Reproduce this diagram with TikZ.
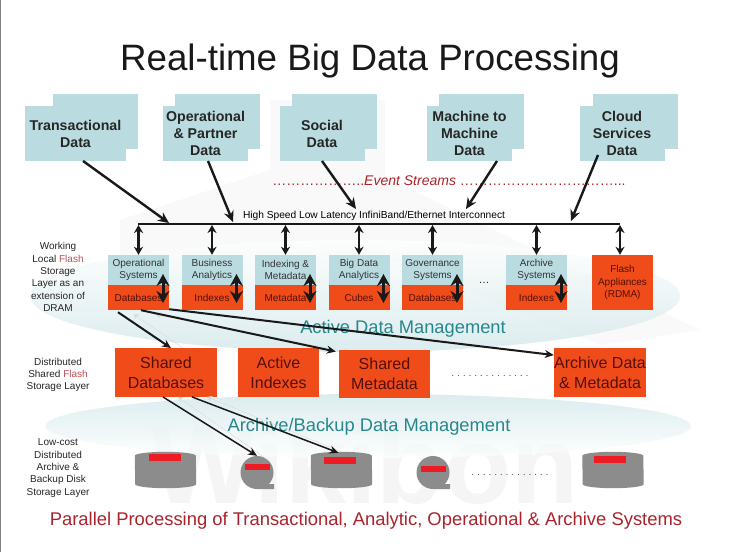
\documentclass[tikz,border=0pt]{standalone}
\usepackage{fontspec}
\setmainfont{Liberation Sans}
\usetikzlibrary{arrows.meta}
\definecolor{sourceteal}{RGB}{186,220,224}
\definecolor{flashorange}{RGB}{240,76,26}
\definecolor{diskgrey}{RGB}{140,140,140}
\definecolor{diskred}{RGB}{237,28,36}
\definecolor{swooshteal}{RGB}{205,229,232}
\definecolor{layerteal}{RGB}{38,135,140}
\definecolor{streamred}{RGB}{170,35,45}
\definecolor{onorange}{RGB}{85,15,10}
\newcommand{\diskbody}[1]{\fill[diskgrey] ([yshift=-4pt]#1.north west) arc[start angle=180,end angle=0,x radius=30.5pt,y radius=4pt]
  -- ([yshift=4pt]#1.south east) arc[start angle=0,end angle=-180,x radius=30.5pt,y radius=4pt] -- cycle;}
\tikzset{
  sourceback/.style={fill=sourceteal,minimum width=85pt,minimum height=55pt,inner sep=0pt},
  sourcefront/.style={fill=sourceteal,minimum height=54.5pt,inner sep=0pt,align=center,
    font=\fontsize{14.2}{17}\selectfont\bfseries,text=black!85},
  systemtop/.style={fill=sourceteal,minimum width=61pt,minimum height=30pt,inner sep=0pt,align=center,
    font=\fontsize{10}{12.3}\selectfont,text=black!80},
  systembottom/.style={fill=flashorange,minimum width=61pt,minimum height=25pt,inner sep=0pt,
    font=\fontsize{10}{12.3}\selectfont,text=onorange},
  sharedbox/.style={fill=flashorange,minimum height=48.5pt,inner sep=0pt,align=center,
    font=\fontsize{16}{20}\selectfont,text=onorange},
  sidelabel/.style={align=center,inner sep=0pt,font=\fontsize{10}{12.3}\selectfont,text=black!85},
  layerlabel/.style={inner sep=0pt,font=\fontsize{18.3}{20}\selectfont,text=layerteal},
  feedarrow/.style={line width=2.4pt,-{Stealth[length=11pt,width=10pt]},black!90},
  thinarrow/.style={line width=1.5pt,-{Stealth[length=9pt,width=8pt]},black!90},
  linkarrow/.style={line width=2.5pt,{Stealth[length=8pt,width=9pt]}-{Stealth[length=8pt,width=9pt]},black!90},
  cachearrow/.style={line width=3pt,{Stealth[length=12pt,width=13pt]}-{Stealth[length=12pt,width=13pt]},black!90},
  disk/.style={minimum width=61pt,minimum height=36pt,inner sep=0pt},
  smalldisk/.style={circle,fill=diskgrey,minimum size=33pt,inner sep=0pt},
  diskmark/.style={fill=diskred,minimum height=7pt,inner sep=0pt},
  dotfill/.style={inner sep=0pt,font=\fontsize{8.8}{10}\selectfont,text=black!85}
}
\begin{document}
\begin{tikzpicture}[x=1pt,y=-1pt]
\useasboundingbox (0,0) rectangle (736,552);
\fill[white] (0,0) rectangle (736,552);
\fill[gray] (0,0) rectangle (1,552);
% faint marks behind the diagram
\node (watermark) [inner sep=0pt,font=\fontsize{110}{120}\selectfont\bfseries,text=black!4] at (365,464) {Wikibon};
\fill[black!2.5] (270,100) -- (385,100) -- (385,300) -- (270,300) -- cycle;
\fill[black!2.5] (120,220) -- (330,150) -- (700,330) -- (600,345) -- (330,235) -- (120,300) -- cycle;
\shade[top color=white,bottom color=swooshteal,opacity=.7] (355,296) ellipse (325pt and 56pt);
\shade[top color=swooshteal,bottom color=white,opacity=.7] (368,426) ellipse (323pt and 32pt);
% title
\node (title) [inner sep=0pt,font=\fontsize{36.7}{40}\selectfont,text=black!90] at (370,61) {Real-time Big Data Processing};
% data sources
\node (transback) [sourceback] at (95.5,121) {};
\node (trans) [sourcefront,minimum width=101pt] at (75.5,133.5) {Transactional\\Data};
\node (partnerback) [sourceback] at (217.5,121) {};
\node (partner) [sourcefront,minimum width=85pt] at (205.5,133.5) {Operational\\\& Partner\\Data};
\node (socialback) [sourceback] at (334.5,121) {};
\node (social) [sourcefront,minimum width=85pt] at (322,133.5) {Social\\Data};
\node (machineback) [sourceback] at (481.5,121) {};
\node (machine) [sourcefront,minimum width=85pt] at (469.5,133.5) {Machine to\\Machine\\Data};
\node (cloudback) [sourceback] at (635,121) {};
\node (cloud) [sourcefront,minimum width=85pt] at (622,133.5) {Cloud\\Services\\Data};
\node (streams) [inner sep=0pt,font=\fontsize{14}{15}\selectfont,text=streamred] at (449,181) {………………..\textit{Event Streams} ……………………………...};
% interconnect
\node (interlabel) [inner sep=0pt,font=\fontsize{10.2}{12}\selectfont] at (374,215.5) {High Speed Low Latency InfiniBand/Ethernet Interconnect};
\coordinate (busleft) at (138,224);
\coordinate (busright) at (620,224);
\draw[line width=2.4pt,black!90] (busleft) -- (busright);
\coordinate (feeda) at (169,223);
\coordinate (feedb) at (233,222);
\coordinate (feedc) at (356,209);
\coordinate (feedd) at (466,209);
\coordinate (feede) at (571,221);
\draw[feedarrow] ([xshift=7.5pt]trans.south) -- (feeda);
\draw[feedarrow] ([xshift=2.5pt]partner.south) -- (feedb);
\draw[feedarrow] (social.south) -- (feedc);
\draw[feedarrow] ([xshift=27.5pt]machine.south) -- (feedd);
\draw[feedarrow] ([xshift=-24pt,yshift=6pt]cloud.south) -- (feede);
% local flash layer
\node (workinglabel) [sidelabel] at (58,277) {Working\\Local \textcolor{streamred!80}{Flash}\\Storage\\Layer as an\\extension of\\DRAM};
\foreach \sysname/\sysx/\systext/\cachetext in {ops/138.5/Operational\\Systems/Databases,
    bus/212/Business\\Analytics/Indexes, idx/285.5/Indexing \&\\Metadata/Metadata,
    big/359/Big Data\\Analytics/Cubes, gov/432.5/Governance\\Systems/Databases,
    arc/536.5/Archive\\Systems/Indexes}{
  \node (\sysname top) [systemtop] at (\sysx,270) {\systext};
  \node (\sysname low) [systembottom] at (\sysx,297.5) {\cachetext};
  \coordinate (\sysname bus) at (\sysx,225);
  \draw[linkarrow] (\sysname bus) -- (\sysname top.north);
  \draw[cachearrow] ([xshift=24.5pt,yshift=-4pt]\sysname top.center) -- ([xshift=24.5pt,yshift=-5.5pt]\sysname low.center);
}
\node (appliance) [fill=flashorange,minimum width=61pt,minimum height=55pt,inner sep=0pt,align=center,
  font=\fontsize{10}{12.3}\selectfont,text=onorange] at (622.5,282.5) {Flash\\Appliances\\(RDMA)};
\coordinate (appliancebus) at (620,225);
\draw[linkarrow] (appliancebus) -- (appliancebus |- appliance.north);
\node (sysdots) [dotfill,font=\fontsize{11}{12}\selectfont] at (484,283) {…};
\node (activelabel) [layerlabel] at (403,329) {Active Data Management};
% shared flash layer
\node (sharedlabel) [sidelabel] at (58,375) {Distributed\\Shared \textcolor{streamred!80}{Flash}\\Storage Layer};
\node (shareddb) [sharedbox,minimum width=102pt] at (166,372.5) {Shared\\Databases};
\node (activeidx) [sharedbox,minimum width=81pt] at (278.5,372.5) {Active\\Indexes};
\node (sharedmeta) [sharedbox,minimum width=91pt] at (384.5,374) {Shared\\Metadata};
\node (archivedata) [sharedbox,minimum width=92pt] at (600,372.5) {Archive Data\\\& Metadata};
\node (shareddots) [dotfill] at (490,376) {. . . . . . . . . . . . . .};
\draw[black!15,{Stealth[length=5pt,width=6pt]}-] ([xshift=-5pt,yshift=-4pt]opslow.south) -- ([xshift=17pt]shareddb.north);
\draw[black!15,{Stealth[length=5pt,width=6pt]}-] ([xshift=17pt,yshift=-4pt]opslow.south) -- ([xshift=-4pt]sharedmeta.north west);
\draw[thinarrow,line width=2pt] ([xshift=-20.5pt,yshift=-2pt]opslow.south) -- ([xshift=5pt]shareddb.north);
\draw[thinarrow,line width=2pt] ([xshift=2.5pt]opslow.south) -- ([xshift=-3pt,yshift=-2pt]sharedmeta.north west);
\draw[thinarrow,line width=2pt] ([yshift=1pt]opslow.south east) -- ([yshift=-7pt]archivedata.north west);
% archive layer
\node (archivelabel) [layerlabel] at (369,427) {Archive/Backup Data Management};
\node (lowcostlabel) [sidelabel] at (58,468) {Low-cost\\Distributed\\Archive \&\\Backup Disk\\Storage Layer};
\node (diska) [disk] at (165.5,470) {};
\node (diskb) [smalldisk] at (257,472.5) {};
\node (diskc) [disk] at (341.5,470) {};
\node (diskd) [smalldisk] at (433,472.5) {};
\node (diske) [disk] at (613,470) {};
\diskbody{diska}
\diskbody{diskc}
\diskbody{diske}
\fill[diskgrey] (diskb.south) -- ++(17,0) -- ++(0,-5) -- ++(-9,0) -- cycle;
\fill[diskgrey] (diskd.south) -- ++(17,0) -- ++(0,-5) -- ++(-9,0) -- cycle;
\node (marka) [diskmark,minimum width=32pt] at (164.5,457.5) {};
\node (markb) [diskmark,minimum width=25pt,minimum height=6pt] at (257.5,467) {};
\node (markc) [diskmark,minimum width=32pt] at (340,460) {};
\node (markd) [diskmark,minimum width=25pt,minimum height=6pt] at (433.5,469) {};
\node (marke) [diskmark,minimum width=32pt] at (610,459.5) {};
\node (diskdots) [dotfill] at (510,475) {. . . . . . . . . . . . . .};
\draw[black!15,{Stealth[length=5pt,width=6pt]}-] ([xshift=12pt]shareddb.south) -- (diskb.north east);
\draw[black!15,{Stealth[length=5pt,width=6pt]}-] ([xshift=41pt]shareddb.south) -- (diskc.north);
\draw[thinarrow] ([xshift=-3pt]shareddb.south) -- (diskb.north);
\draw[thinarrow] ([xshift=26pt]shareddb.south) -- ([xshift=-3pt,yshift=-1pt]diskc.north);
% footer
\node (footer) [inner sep=0pt,font=\fontsize{18.4}{20}\selectfont,text=streamred] at (366,521) {Parallel Processing of Transactional, Analytic, Operational \& Archive Systems};
\end{tikzpicture}
\end{document}
